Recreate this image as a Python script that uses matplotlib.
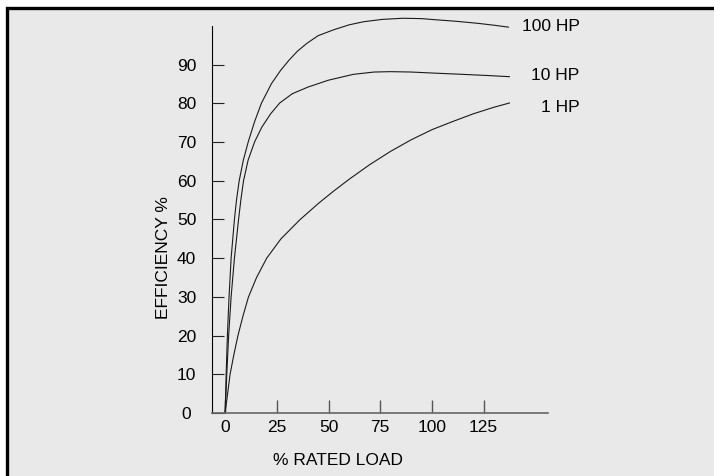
import matplotlib.pyplot as plt
from matplotlib.lines import Line2D
from matplotlib.patches import Rectangle

# values (% rated load, efficiency %)
load_100hp = [0, 0.5, 1.1, 1.9, 2.9, 4.5, 5.5, 6.8, 8.8, 11.2, 14.2, 17.6, 22.4, 26.8, 30.8,
              35, 39.5, 45, 52.4, 60, 67, 76, 86, 95, 102, 112, 122, 130, 137]
eff_100hp = [0, 10, 20, 30, 40, 50, 55, 60, 65.3, 70.1, 75.2, 80.1, 85.1, 88.5, 91.1,
             93.5, 95.5, 97.5, 99, 100.3, 101.1, 101.7, 102, 101.9, 101.6, 101.2, 100.7, 100.2, 99.7]

load_10hp = [0, 0.8, 1.7, 2.9, 4.5, 6.5, 7.6, 8.9, 11.1, 14.3, 17.8, 22, 26.4, 32.5,
             40, 50, 62, 72, 80, 90, 102, 115, 127, 137.5]
eff_10hp = [0, 10, 20, 30, 40, 50, 55, 60, 65.3, 70.1, 73.9, 77.3, 80.1, 82.5,
            84.2, 86.0, 87.5, 88.1, 88.2, 88.1, 87.8, 87.5, 87.2, 86.9]

load_1hp = [0, 1.2, 2.4, 4.2, 6.2, 8.6, 11.3, 15.2, 20.1, 27, 36.3, 45, 52.4, 60,
            70, 80, 90, 100, 110, 120, 130, 137.5]
eff_1hp = [0, 5, 10, 15, 20, 25, 30, 35, 40, 45, 50, 54.1, 57.3, 60.4,
           64.2, 67.6, 70.6, 73.2, 75.3, 77.3, 79, 80.1]

curve_labels = ["100 HP", "10 HP", "1 HP"]
label_y = [99.8, 87.2, 78.9]

x_ticks = [0, 25, 50, 75, 100, 125]
y_ticks = [0, 10, 20, 30, 40, 50, 60, 70, 80, 90]

plt.rcParams["font.family"] = ["Liberation Sans", "DejaVu Sans"]
plt.rcParams["font.size"] = 12.5

fig = plt.figure(figsize=(7.14, 4.76), dpi=100)
fig.patch.set_facecolor("white")
fig.patch.set_edgecolor("none")

# grey panel with a black frame on the top and left edges (cropped on the other two)
x0 = 6.5 / 714
y1 = (476 - 7.5) / 476
fig.patches.append(Rectangle((x0, 0), 1 - x0, y1, transform=fig.transFigure,
                             facecolor="#e9e9e9", edgecolor="none", linewidth=0, zorder=-10))
fig.lines.append(Line2D([x0, x0, 1], [0, y1, y1], transform=fig.transFigure,
                        color="black", linewidth=2.4, solid_joinstyle="miter",
                        solid_capstyle="butt"))

ax = fig.add_axes([212.3 / 714, (476 - 413) / 476, 336 / 714, 402.5 / 476])
ax.set_facecolor("none")
ax.set_xlim(-6.2, 156.3)
ax.set_ylim(0, 104)

for xs, ys in [(load_100hp, eff_100hp), (load_10hp, eff_10hp), (load_1hp, eff_1hp)]:
    ax.plot(xs, ys, color="#1a1a1a", linewidth=0.8, clip_on=False)

for lbl, y in zip(curve_labels, label_y):
    ax.text(171.5, y, lbl, ha="right", va="center", clip_on=False)

ax.spines["top"].set_visible(False)
ax.spines["right"].set_visible(False)
ax.spines["left"].set_bounds(0, 100)
ax.spines["left"].set_linewidth(0.8)
ax.spines["bottom"].set_color("#666666")
ax.spines["bottom"].set_linewidth(1.2)

ax.set_xticks(x_ticks)
ax.set_yticks(y_ticks)
ax.tick_params(axis="x", direction="in", length=9.5, width=1.0, color="#555555", pad=5)
ax.tick_params(axis="y", direction="in", length=8.5, width=0.8, color="#222222", pad=18.5)
for t in ax.get_yticklabels():
    t.set_ha("center")

ax.set_ylabel("EFFICIENCY %", va="center")
ax.yaxis.set_label_coords(-0.1467, 0.385)
ax.set_xlabel("% RATED LOAD", va="center")
ax.xaxis.set_label_coords(0.375, -0.1168)

fig.savefig("out.png", dpi=100)
